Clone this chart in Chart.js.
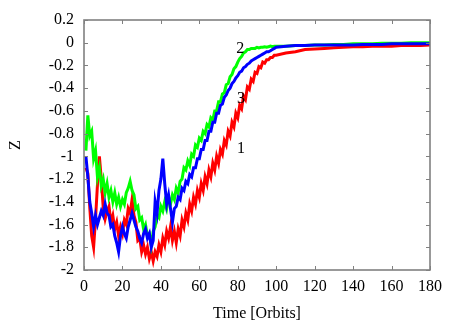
<!DOCTYPE html>
<html>
<head>
<meta charset="utf-8">
<script src="https://cdn.jsdelivr.net/npm/chart.js@4.4.1/dist/chart.umd.min.js"></script>
<style>
  html, body { margin: 0; padding: 0; background: #fff; }
</style>
</head>
<body>
<canvas id="chart" width="458" height="321"></canvas>
<script>
const timeOrbits = [
  1, 2, 3, 4, 5, 6, 7, 8, 9, 10, 11, 12, 13, 14, 15, 16, 17, 18, 19, 20,
  21, 22, 23, 24, 25, 26, 27, 28, 29, 30, 31, 32, 33, 34, 35, 36, 37, 38, 39, 40,
  41, 42, 43, 44, 45, 46, 47, 48, 49, 50, 51, 52, 53, 54, 55, 56, 57, 58, 59, 60,
  61, 62, 63, 64, 65, 66, 67, 68, 69, 70, 71, 72, 73, 74, 75, 76, 77, 78, 79, 80,
  81, 82, 83, 84, 85, 86, 87, 88, 89, 90, 91, 92, 93, 94, 95, 96, 97, 98, 99, 100,
  105, 110, 115, 120, 125, 130, 135, 140, 145, 150, 155, 160, 165, 170, 175, 180
];

const zRun1 = [
  -1.10, -1.15, -1.45, -1.70, -1.80, -1.55, -1.25, -1.00, -1.20, -1.45,
  -1.55, -1.48, -1.44, -1.58, -1.52, -1.64, -1.58, -1.70, -1.62, -1.68,
  -1.56, -1.60, -1.46, -1.50, -1.38, -1.52, -1.58, -1.74, -1.72, -1.84,
  -1.78, -1.86, -1.80, -1.90, -1.84, -1.92, -1.84, -1.88, -1.78, -1.84,
  -1.72, -1.78, -1.66, -1.72, -1.62, -1.74, -1.66, -1.76, -1.64, -1.70,
  -1.56, -1.62, -1.50, -1.56, -1.42, -1.48, -1.36, -1.42, -1.30, -1.36,
  -1.24, -1.30, -1.18, -1.24, -1.12, -1.18, -1.06, -1.12, -1.00, -1.06,
  -0.94, -0.98, -0.86, -0.90, -0.78, -0.82, -0.70, -0.74, -0.62, -0.66,
  -0.55, -0.58, -0.47, -0.50, -0.39, -0.41, -0.32, -0.34, -0.26, -0.27,
  -0.21, -0.22, -0.17, -0.18, -0.15, -0.15, -0.13, -0.13, -0.11, -0.11,
  -0.09, -0.08, -0.06, -0.055, -0.05, -0.045, -0.04, -0.035, -0.035, -0.03,
  -0.03, -0.03, -0.025, -0.025, -0.025, -0.02
];

const zRun2 = [
  -0.95, -0.64, -0.82, -0.78, -1.02, -0.95, -1.18, -1.10, -1.26, -1.20,
  -1.32, -1.24, -1.36, -1.30, -1.40, -1.32, -1.42, -1.36, -1.44, -1.38,
  -1.42, -1.32, -1.28, -1.22, -1.30, -1.34, -1.46, -1.44, -1.56, -1.54,
  -1.64, -1.60, -1.70, -1.68, -1.78, -1.66, -1.62, -1.52, -1.54, -1.44,
  -1.48, -1.40, -1.46, -1.36, -1.42, -1.34, -1.38, -1.28, -1.32, -1.22,
  -1.20, -1.10, -1.12, -1.04, -1.08, -0.98, -1.00, -0.90, -0.92, -0.84,
  -0.86, -0.78, -0.80, -0.72, -0.74, -0.66, -0.68, -0.60, -0.60, -0.52,
  -0.52, -0.45, -0.44, -0.37, -0.36, -0.30, -0.28, -0.23, -0.21, -0.17,
  -0.14, -0.12, -0.09, -0.08, -0.06, -0.06, -0.05, -0.05, -0.05, -0.04,
  -0.045, -0.04, -0.04, -0.035, -0.04, -0.035, -0.03, -0.035, -0.03, -0.03,
  -0.03, -0.025, -0.025, -0.02, -0.02, -0.015, -0.015, -0.01, -0.01, -0.01,
  -0.005, -0.005, -0.005, 0, 0, 0
];

const zRun3 = [
  -1.00, -1.18, -1.40, -1.50, -1.62, -1.52, -1.60, -1.54, -1.48, -1.52,
  -1.42, -1.50, -1.52, -1.62, -1.60, -1.70, -1.76, -1.84, -1.70, -1.62,
  -1.68, -1.72, -1.62, -1.56, -1.50, -1.56, -1.62, -1.66, -1.72, -1.76,
  -1.68, -1.64, -1.72, -1.68, -1.80, -1.74, -1.40, -1.50, -1.30, -1.20,
  -1.02, -1.24, -1.42, -1.34, -1.46, -1.58, -1.46, -1.44, -1.36, -1.38,
  -1.28, -1.30, -1.22, -1.24, -1.16, -1.18, -1.10, -1.10, -1.02, -1.02,
  -0.94, -0.94, -0.86, -0.86, -0.78, -0.78, -0.70, -0.70, -0.62, -0.62,
  -0.55, -0.54, -0.48, -0.46, -0.42, -0.40, -0.36, -0.34, -0.31, -0.29,
  -0.26, -0.25, -0.22, -0.21, -0.19, -0.18, -0.16, -0.15, -0.14, -0.13,
  -0.12, -0.11, -0.10, -0.09, -0.08, -0.08, -0.07, -0.06, -0.05, -0.04,
  -0.03, -0.025, -0.025, -0.02, -0.02, -0.02, -0.02, -0.02, -0.015, -0.015,
  -0.015, -0.01, -0.01, -0.01, -0.01, -0.01
];

// curve numbers written next to the lines
const curveNames = ["1", "2", "3"];
const curveNameX = [81.7, 81.3, 81.7];
const curveNameY = [-0.93, -0.05, -0.49];

const serif = "'Liberation Serif', 'DejaVu Serif', serif";

const toPoints = (values) => values.map((v, i) => ({ x: timeOrbits[i], y: v }));

const framePlugin = {
  id: "frame",
  afterDatasetsDraw(chart) {
    const { ctx, chartArea: a, scales } = chart;
    ctx.save();
    ctx.strokeStyle = "#808080";
    ctx.lineWidth = 1;
    ctx.beginPath();
    scales.x.ticks.forEach((t) => {
      const px = Math.round(scales.x.getPixelForValue(t.value)) + 0.5;
      ctx.moveTo(px, a.bottom);
      ctx.lineTo(px, a.bottom - 4);
      ctx.moveTo(px, a.top);
      ctx.lineTo(px, a.top + 4);
    });
    scales.y.ticks.forEach((t) => {
      const py = Math.round(scales.y.getPixelForValue(t.value)) + 0.5;
      ctx.moveTo(a.left, py);
      ctx.lineTo(a.left + 4, py);
      ctx.moveTo(a.right, py);
      ctx.lineTo(a.right - 4, py);
    });
    ctx.stroke();
    ctx.lineWidth = 1.6;
    ctx.strokeRect(a.left, a.top, a.right - a.left, a.bottom - a.top);

    ctx.fillStyle = "#000";
    ctx.font = "16px " + serif;
    ctx.textAlign = "center";
    ctx.textBaseline = "middle";
    curveNames.forEach((name, i) => {
      ctx.fillText(
        name,
        scales.x.getPixelForValue(curveNameX[i]),
        scales.y.getPixelForValue(curveNameY[i])
      );
    });
    ctx.restore();
  },
};

const lineStyle = (label, data, color, order) => ({
  label: label,
  data: toPoints(data),
  borderColor: color,
  backgroundColor: color,
  borderWidth: 3,
  pointRadius: 0,
  tension: 0,
  order: order,
});

new Chart(document.getElementById("chart"), {
  type: "line",
  data: {
    datasets: [
      lineStyle("1", zRun1, "#ff0000", 3),
      lineStyle("2", zRun2, "#00ff00", 2),
      lineStyle("3", zRun3, "#0000ff", 1),
    ],
  },
  options: {
    responsive: false,
    animation: false,
    layout: { padding: { top: 20, right: 28, left: 0, bottom: 0 } },
    plugins: {
      legend: { display: false },
      tooltip: { enabled: false },
    },
    scales: {
      x: {
        type: "linear",
        min: 0,
        max: 180,
        ticks: {
          stepSize: 20,
          color: "#000",
          padding: 7,
          maxRotation: 0,
          font: { family: serif, size: 16 },
        },
        grid: { display: false, drawTicks: false },
        border: { display: false },
        title: {
          display: true,
          text: "Time [Orbits]",
          color: "#000",
          font: { family: serif, size: 16 },
          padding: { top: 0, bottom: -2 },
        },
        afterFit: (scale) => {
          scale.height = 51;
        },
      },
      y: {
        min: -2,
        max: 0.2,
        ticks: {
          stepSize: 0.2,
          color: "#000",
          padding: 10,
          font: { family: serif, size: 16 },
          callback: (value) =>
            Math.abs(value) < 1e-9 ? "0" : parseFloat(value.toFixed(1)).toString(),
        },
        grid: { display: false, drawTicks: false },
        border: { display: false },
        title: {
          display: true,
          text: "Z",
          color: "#000",
          font: { family: serif, size: 16 },
          padding: { top: 6, bottom: 0 },
        },
        afterFit: (scale) => {
          scale.width = 84;
        },
      },
    },
  },
  plugins: [framePlugin],
});
</script>
</body>
</html>
